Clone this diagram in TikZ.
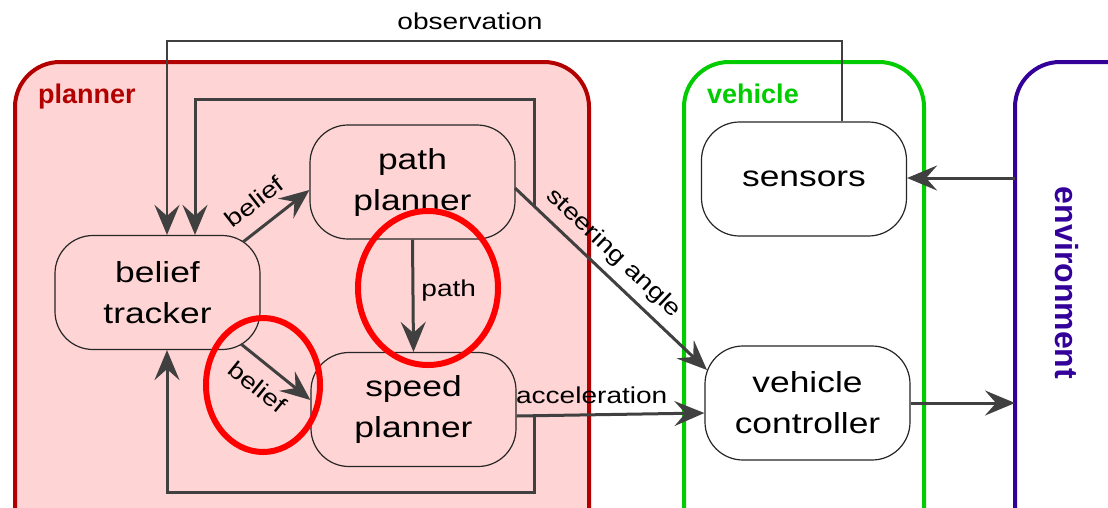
\documentclass[tikz,border=0pt]{standalone}
\usepackage{fontspec}
\setmainfont{Liberation Sans}[FakeStretch=1.22]
\newfontfamily\tagfont{Liberation Sans}
\usetikzlibrary{arrows.meta}

\definecolor{plannerred}{HTML}{B20000}
\definecolor{plannerfill}{HTML}{FFD4D4}
\definecolor{vehiclegreen}{HTML}{00CC00}
\definecolor{envblue}{HTML}{330099}
\definecolor{wire}{HTML}{404040}
\definecolor{markred}{HTML}{FF0000}

\tikzset{
  group/.style={line width=4pt, rounded corners=45pt},
  block/.style={draw=black!85, line width=1.2pt, rounded corners=38pt,
    minimum width=205pt, minimum height=114pt, inner sep=0pt,
    align=center, font=\fontsize{29}{41}\selectfont},
  flow/.style={draw=wire, line width=3pt,
    -{Stealth[length=30pt,width=25pt,inset=11pt]}},
  lbl/.style={font=\fontsize{23}{26}\selectfont, inner sep=0pt},
  tag/.style={font=\tagfont\bfseries\fontsize{27}{29}\selectfont, inner sep=0pt},
  circled/.style={draw=markred, line width=6pt},
}

\begin{document}
\begin{tikzpicture}[x=1pt,y=-1pt]
\useasboundingbox (0,0) rectangle (1108,507);
\clip (0,0) rectangle (1108,507);

% containers
\draw[group, draw=plannerred, fill=plannerfill] (15,62) rectangle (589,560);
\draw[group, draw=vehiclegreen, fill=white] (684,62) rectangle (924,560);
\draw[group, draw=envblue, fill=white] (1015,62) rectangle (1200,560);

\node[tag, text=plannerred, anchor=base west] (plannertag) at (38,103) {planner};
\node[tag, text=vehiclegreen, anchor=base west] (vehicletag) at (707,103) {vehicle};
\node[font=\tagfont\bfseries\fontsize{32}{34}\selectfont, text=envblue, rotate=-90, inner sep=0pt] (envtag) at (1067,283) {environment};

% blocks
\node[block, fill=plannerfill] (bt) at (157.5,292.5) {belief\\tracker};
\node[block, fill=plannerfill] (pp) at (412.5,182) {path\\planner};
\node[block, fill=plannerfill] (sp) at (413.5,409.5) {speed\\planner};
\node[block, fill=white] (sen) at (804,179) {sensors};
\node[block, fill=white] (vc) at (807.5,403) {vehicle\\controller};

% junction points
\coordinate (envin) at (1015,178);
\coordinate (envout) at (1015,403);
\coordinate (steerj) at (534,206);
\coordinate (accj) at (534,415.5);

% observation feedback
\draw[flow, line width=2.6pt] (sen.north -| 842,0) -- (842,41) -- (167,41) -- (bt.north -| 167,0);
\node[lbl] (obslbl) at (470,21) {observation};

% internal flows
\draw[flow] (243,242) -- node[lbl, sloped, above=15pt, pos=0.4] (b1) {belief} (pp.west |- 0,190);
\draw[flow] (241,344) -- node[lbl, sloped, below=13pt, pos=0.45] (b2) {belief} (sp.west |- 0,400);
\draw[flow] (pp.south) -- node[lbl, right=7pt, pos=0.45] (pl) {path} (sp.north);

% outputs to vehicle controller
\draw[flow] (515,188) -- node[lbl, sloped, above=8pt, pos=0.44] (sa) {steering angle} (707,370);
\draw[flow] (sp.east |- 0,416) -- node[lbl, above=10pt, pos=0.4] (acc) {acceleration} (vc.west |- 0,413);

% feedback loops to the belief tracker
\draw[flow] (steerj) -- (534,99) -- (195,99) -- (bt.north -| 195,0);
\draw[flow] (accj) -- (534,492) -- (167,492) -- (bt.south -| 167,0);

% environment links
\draw[flow] (envin) -- (sen.east |- envin);
\draw[flow] (vc.east) -- (envout);

% highlight rings
\draw[circled] (428,288) ellipse [x radius=70, y radius=77];
\draw[circled] (263,385) ellipse [x radius=57, y radius=67];
\end{tikzpicture}
\end{document}
